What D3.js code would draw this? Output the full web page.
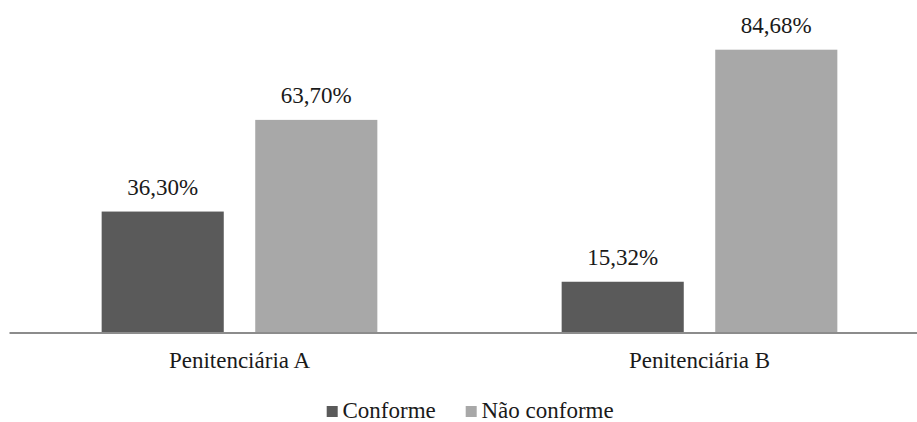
<!DOCTYPE html>
<html><head><meta charset="utf-8">
<script src="https://cdn.jsdelivr.net/npm/d3@7"></script>
</head>
<body style="margin:0">
<svg id="chart" width="917" height="422"></svg>
<script>
const categories = ["Penitenciária A", "Penitenciária B"];
const seriesNames = ["Conforme", "Não conforme"];
const conforme = [36.30, 15.32];
const naoConforme = [63.70, 84.68];
const seriesColors = ["#5a5a5a", "#a8a8a8"];

const fontSize = 23;
const textColor = "#1a1a1a";

const svg = d3.select("#chart");

const x0 = d3.scaleBand().domain(categories).range([9.5, 929.5]).paddingInner(0).paddingOuter(0);
const x1 = d3.scaleBand().domain(seriesNames).range([0, x0.bandwidth()]).paddingInner(0.205).paddingOuter(0.6);
const y = d3.scaleLinear().domain([0, 90]).range([333, 31.9]);

const data = categories.map((c, i) => ({
  category: c,
  values: [
    { series: seriesNames[0], value: conforme[i] },
    { series: seriesNames[1], value: naoConforme[i] }
  ]
}));
const color = d3.scaleOrdinal().domain(seriesNames).range(seriesColors);
const fmt = v => v.toFixed(2).replace(".", ",") + "%";

function styleText(sel) {
  sel.attr("font-family", "Liberation Serif").attr("font-size", fontSize).attr("fill", textColor);
}

const groups = svg.append("g").selectAll("g").data(data).join("g")
  .attr("transform", d => `translate(${x0(d.category)},0)`);

groups.selectAll("rect").data(d => d.values).join("rect")
  .attr("x", d => x1(d.series))
  .attr("y", d => y(d.value))
  .attr("width", x1.bandwidth())
  .attr("height", d => y(0) - y(d.value))
  .attr("fill", d => color(d.series));

groups.selectAll("text.val").data(d => d.values).join("text")
  .attr("class", "val")
  .attr("x", d => x1(d.series) + x1.bandwidth() / 2)
  .attr("y", d => y(d.value) - 16.5)
  .attr("text-anchor", "middle")
  .call(styleText)
  .text(d => fmt(d.value));

// axis
const xAxis = d3.axisBottom(x0).tickSize(0).tickPadding(0);
const ax = svg.append("g").attr("transform", `translate(0,${y(0)})`).call(xAxis);
ax.attr("font-family", "Liberation Serif").attr("font-size", fontSize);
ax.select(".domain").attr("stroke", "#8c8c8c").attr("stroke-width", 2.2).attr("d", `M9.5,0H917`);
ax.selectAll(".tick text")
  .attr("dy", null)
  .attr("y", 35)
  .call(styleText);

// legend
const legend = svg.append("g");
const items = [
  { name: seriesNames[0], sq: 326.7, tx: 342.5 },
  { name: seriesNames[1], sq: 465.7, tx: 481.5 }
];
const li = legend.selectAll("g").data(items).join("g");
li.append("rect")
  .attr("x", d => d.sq).attr("y", 406).attr("width", 11).attr("height", 11)
  .attr("fill", d => color(d.name));
li.append("text")
  .attr("x", d => d.tx).attr("y", 418)
  .call(styleText)
  .text(d => d.name);
</script>
</body></html>
